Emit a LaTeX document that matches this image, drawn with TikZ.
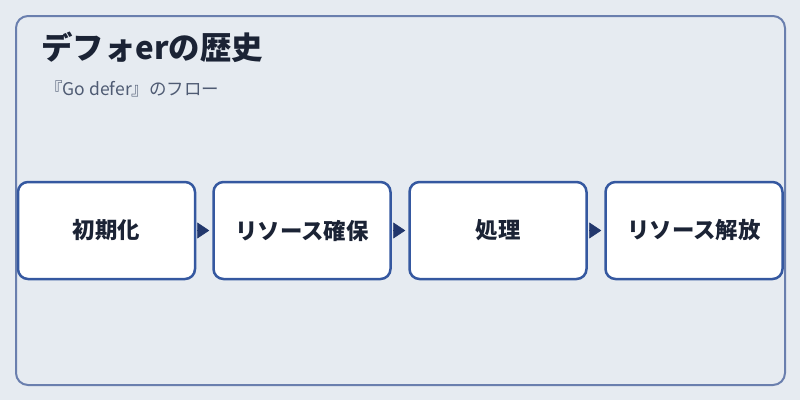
\documentclass[tikz,border=0pt]{standalone}
\usepackage{fontspec}
\setmainfont{Noto Sans CJK JP}
\usetikzlibrary{arrows.meta}
\definecolor{bgc}{HTML}{E6EBF1}
\definecolor{framec}{HTML}{6A7FAE}
\definecolor{boxc}{HTML}{3558A0}
\definecolor{arrc}{HTML}{22376C}
\definecolor{txtc}{HTML}{1B2335}
\definecolor{subc}{HTML}{4F5B73}
\tikzset{
  stepbox/.style={draw=boxc, line width=2.5pt, fill=white, rounded corners=10pt,
    minimum width=177pt, minimum height=97pt, inner sep=0pt,
    font=\fontsize{22.4}{26}\selectfont\bfseries, text=txtc},
  flow/.style={arrc, line width=0.4pt, shorten <=2pt, shorten >=3pt,
    -{Triangle[length=12pt,width=16pt]}}
}
\begin{document}
\begin{tikzpicture}[x=1pt,y=-1pt]
\fill[bgc] (0,0) rectangle (800,400);
\useasboundingbox (0,0) rectangle (800,400);
\draw[framec, line width=2pt, rounded corners=12pt] (16,16) rectangle (785,385);
\node[anchor=west, inner sep=0pt, text=txtc, font=\fontsize{31.4}{36}\selectfont\bfseries] (title) at (41,47.5) {デフォerの歴史};
\node[anchor=west, inner sep=0pt, text=subc, font=\fontsize{17.5}{21}\selectfont] (sub) at (45,89) {『Go defer』のフロー};
\node[stepbox] (s1) at (106.5,230.5) {初期化};
\node[stepbox] (s2) at (302,230.5) {リソース確保};
\node[stepbox] (s3) at (498,230.5) {処理};
\node[stepbox] (s4) at (694,230.5) {リソース解放};
\draw[flow] (s1.east) -- (s2.west);
\draw[flow] (s2.east) -- (s3.west);
\draw[flow] (s3.east) -- (s4.west);
\end{tikzpicture}
\end{document}
